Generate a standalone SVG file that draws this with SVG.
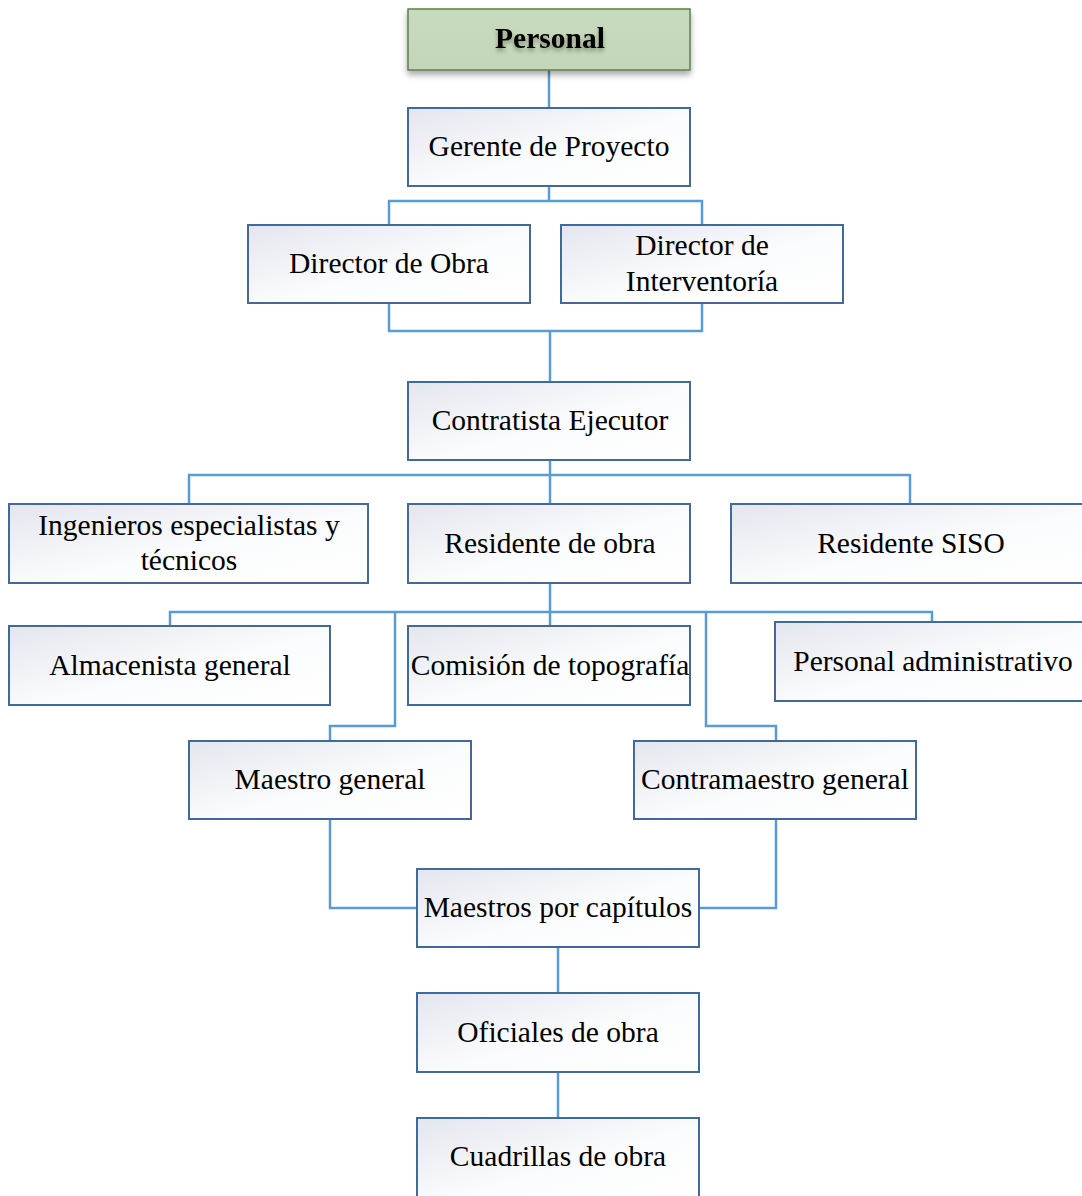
<svg xmlns="http://www.w3.org/2000/svg" width="1082" height="1196" viewBox="0 0 1082 1196">
  <style>
    .box { fill: url(#boxFill); stroke: #41699a; stroke-width: 2; }
    .root { fill: url(#rootFill); stroke: #5e7f4c; stroke-width: 1.5; filter: url(#shadow); }
    .lbl { font-family: "Liberation Serif", "Times New Roman", serif; font-size: 29.5px; fill: #000; text-anchor: middle; }
    .title { font-weight: bold; filter: url(#textShadow); }
    .conn { fill: none; stroke: #5b9bd5; stroke-width: 2.5; }
  </style>
  <defs>
    <linearGradient id="boxFill" x1="0" y1="0" x2="1" y2="1">
      <stop offset="0" stop-color="#e4e6ee"/>
      <stop offset="0.55" stop-color="#fbfcfd"/>
      <stop offset="1" stop-color="#ffffff"/>
    </linearGradient>
    <linearGradient id="rootFill" x1="0" y1="0" x2="0" y2="1">
      <stop offset="0" stop-color="#c9dbbf"/>
      <stop offset="1" stop-color="#c3d6b8"/>
    </linearGradient>
    <filter id="shadow" x="-10%" y="-20%" width="120%" height="160%">
      <feGaussianBlur in="SourceAlpha" stdDeviation="3"/>
      <feOffset dy="4" result="b"/>
      <feComponentTransfer><feFuncA type="linear" slope="0.35"/></feComponentTransfer>
      <feMerge><feMergeNode/><feMergeNode in="SourceGraphic"/></feMerge>
    </filter>
    <filter id="textShadow" x="-10%" y="-30%" width="120%" height="180%">
      <feGaussianBlur in="SourceAlpha" stdDeviation="2"/>
      <feOffset dy="3"/>
      <feComponentTransfer><feFuncA type="linear" slope="0.35"/></feComponentTransfer>
      <feMerge><feMergeNode/><feMergeNode in="SourceGraphic"/></feMerge>
    </filter>
  </defs>
  <rect width="1082" height="1196" fill="#ffffff"/>

  <!-- connectors -->
  <g id="connectors" class="conn">
    <path d="M549 70 V108"/>
    <path d="M549 186 V201 M389 225 V201 H702 V225"/>
    <path d="M389 303 V331 H702 V303 M550 331 V382"/>
    <path d="M550 460 V475 M189 504 V475 H910 V504 M550 475 V504"/>
    <path d="M550 583 V612 M170 626 V612 H932 V622 M550 612 V626"/>
    <path d="M395 612 V726 H330 V741"/>
    <path d="M706 612 V726 H776 V741"/>
    <path d="M330 819 V908 H417"/>
    <path d="M776 819 V908 H699"/>
    <path d="M558 947 V993"/>
    <path d="M558 1072 V1118"/>
  </g>

  <g id="personal">
    <rect class="root" x="408" y="9" width="282" height="61"/>
    <text class="lbl title" x="550" y="48">Personal</text>
  </g>
  <g id="gerente">
    <rect class="box" x="408" y="108" width="282" height="78"/>
    <text class="lbl" x="549" y="156">Gerente de Proyecto</text>
  </g>
  <g id="director-obra">
    <rect class="box" x="248" y="225" width="282" height="78"/>
    <text class="lbl" x="389" y="273">Director de Obra</text>
  </g>
  <g id="director-interventoria">
    <rect class="box" x="561" y="225" width="282" height="78"/>
    <text class="lbl" x="702" y="255">Director de</text>
    <text class="lbl" x="702" y="291">Interventoría</text>
  </g>
  <g id="contratista">
    <rect class="box" x="408" y="382" width="282" height="78"/>
    <text class="lbl" x="550" y="430">Contratista Ejecutor</text>
  </g>
  <g id="ingenieros">
    <rect class="box" x="9" y="504" width="359" height="79"/>
    <text class="lbl" x="189" y="535">Ingenieros especialistas y</text>
    <text class="lbl" x="189" y="570">técnicos</text>
  </g>
  <g id="residente-obra">
    <rect class="box" x="408" y="504" width="282" height="79"/>
    <text class="lbl" x="550" y="553">Residente de obra</text>
  </g>
  <g id="residente-siso">
    <rect class="box" x="731" y="504" width="360" height="79"/>
    <text class="lbl" x="911" y="553">Residente SISO</text>
  </g>
  <g id="almacenista">
    <rect class="box" x="9" y="626" width="321" height="79"/>
    <text class="lbl" x="170" y="675">Almacenista general</text>
  </g>
  <g id="topografia">
    <rect class="box" x="408" y="626" width="282" height="79"/>
    <text class="lbl" x="550" y="675">Comisión de topografía</text>
  </g>
  <g id="administrativo">
    <rect class="box" x="775" y="622" width="316" height="79"/>
    <text class="lbl" x="933" y="671">Personal administrativo</text>
  </g>
  <g id="maestro-general">
    <rect class="box" x="189" y="741" width="282" height="78"/>
    <text class="lbl" x="330" y="789">Maestro general</text>
  </g>
  <g id="contramaestro">
    <rect class="box" x="634" y="741" width="282" height="78"/>
    <text class="lbl" x="775" y="789">Contramaestro general</text>
  </g>
  <g id="maestros-capitulos">
    <rect class="box" x="417" y="869" width="282" height="78"/>
    <text class="lbl" x="558" y="917">Maestros por capítulos</text>
  </g>
  <g id="oficiales">
    <rect class="box" x="417" y="993" width="282" height="79"/>
    <text class="lbl" x="558" y="1042">Oficiales de obra</text>
  </g>
  <g id="cuadrillas">
    <rect class="box" x="417" y="1118" width="282" height="85"/>
    <text class="lbl" x="558" y="1166">Cuadrillas de obra</text>
  </g>
</svg>
